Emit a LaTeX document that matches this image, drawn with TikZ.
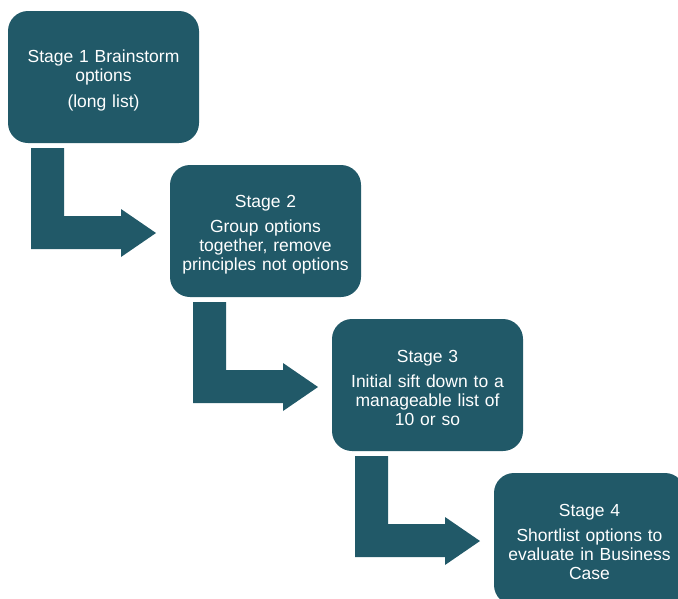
\documentclass[tikz,border=0pt]{standalone}
\usepackage{fontspec}
\setmainfont{Liberation Sans}
\usepackage{tikz}
\definecolor{stageteal}{RGB}{33,89,104}

\begin{document}
\begin{tikzpicture}[x=1pt, y=-1pt, outer sep = 0pt]

\tikzstyle{stage}=[fill=stageteal, rounded corners=20pt, minimum height=132pt, minimum width=191pt, text width=185pt, align=center, inner sep=0pt, anchor=north west, text=white, font=\fontsize{17.5}{19}\selectfont]
\tikzstyle{bentarrow}=[fill=stageteal]

\useasboundingbox (0,0) rectangle (678,598);

\node[stage] (s1) at (8,11) {\rule{0pt}{0pt}\\Stage 1 Brainstorm\\options\\[7pt](long list)};
\node[stage] (s2) at (170,165) {\rule{0pt}{0pt}\\Stage 2\\[6pt]Group options\\together, remove\\principles not options};
\node[stage] (s3) at (332,319) {\rule{0pt}{0pt}\\Stage 3\\[6pt]Initial sift down to a\\manageable list of\\10 or so};
\node[stage] (s4) at (494,473) {\rule{0pt}{0pt}\\Stage 4\\[6pt]Shortlist options to\\evaluate in Business\\Case};

% bent arrows below each stage
\foreach \a in {s1,s2,s3}
  \fill[bentarrow] ([shift={(23,5)}]\a.south west) -- ++(33,0) -- ++(0,68) -- ++(57,0) -- ++(0,-7) -- ++(35,24) -- ++(-35,24) -- ++(0,-8) -- ++(-90,0) -- cycle;

\end{tikzpicture}
\end{document}
